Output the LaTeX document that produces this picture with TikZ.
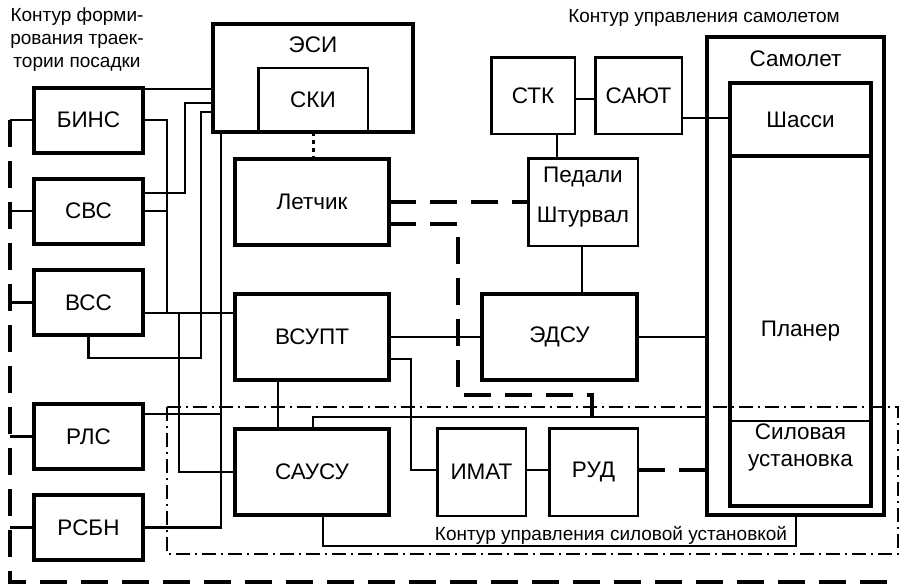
\documentclass[tikz,border=0pt]{standalone}
\usepackage{fontspec}
\setmainfont{Liberation Sans}
\usepackage{tikz}
\usetikzlibrary{
  positioning,
  calc
}
\definecolor{WireBlack}{RGB}{0,0,0}
\tikzset{
  heavybox/.style={draw=WireBlack,line width=4pt,outer sep=0pt,inner sep=0pt,minimum width=109pt,minimum height=65pt,align=center,font=\fontsize{22.5}{27}\selectfont},
  lightbox/.style={draw=WireBlack,line width=2.5pt,outer sep=0pt,inner sep=0pt,minimum width=88.5pt,minimum height=87.5pt,align=center,font=\fontsize{22.5}{27}\selectfont},
  boxtext/.style={inner sep=0pt,align=center,font=\fontsize{22.5}{27}\selectfont},
  notetext/.style={inner sep=0pt,align=center,font=\fontsize{19}{23}\selectfont},
  wire/.style={line width=2.2pt,draw=WireBlack},
  crewlink/.style={line width=4pt,dash pattern=on 27pt off 14pt,draw=WireBlack},
  sightlink/.style={line width=3pt,dash pattern=on 4pt off 4pt,draw=WireBlack},
  loopline/.style={line width=4pt,dash pattern=on 27pt off 14pt,draw=WireBlack},
  powerloop/.style={line width=2pt,dash pattern=on 14pt off 5pt on 2pt off 5pt,draw=WireBlack},
  tickline/.style={line width=2.8pt,draw=WireBlack}
}

\begin{document}
\begin{tikzpicture}[x=1pt,y=-1pt]
\useasboundingbox (0,0) rectangle (901,587);

% contour labels
\node[notetext, anchor=north] (landtxt) at (77,7.5) {Контур форми-\\рования траек-\\тории посадки};
\node[notetext, anchor=base] (planetxt) at (704,22) {Контур управления самолетом};

% left column
\node[heavybox] (bins) at (88.5,120) {БИНС};
\node[heavybox, below=26pt of bins] (svs) {СВС};
\node[heavybox, below=26.5pt of svs] (vss) {ВСС};
\node[heavybox, below=69pt of vss] (rls) {РЛС};
\node[heavybox, below=26pt of rls] (rsbn) {РСБН};

% display and pilot
\node[heavybox, minimum width=200pt, minimum height=108pt] (esi) at (313,78) {};
\node[boxtext] (esitxt) at (313,44.5) {ЭСИ};
\node[lightbox, minimum width=109.5pt, minimum height=64pt, anchor=south] (ski) at (esi.south) {СКИ};
\node[heavybox, minimum width=154pt, minimum height=86pt] (letchik) at (312,202) {Летчик};
\node[heavybox, minimum width=154pt, minimum height=86pt, below=49pt of letchik] (vsupt) {ВСУПТ};
\node[heavybox, minimum width=154pt, minimum height=86pt, below=49pt of vsupt] (sausu) {САУСУ};

% aircraft control
\node[lightbox, minimum width=83.5pt, minimum height=76.5pt] (stk) at (533,95.5) {СТК};
\node[lightbox, minimum width=86.5pt, minimum height=76.5pt] (saut) at (638.5,95.5) {САЮТ};
\node[lightbox, minimum width=109.5pt, minimum height=87.5pt] (pedali) at (583,202) {};
\node[boxtext, font=\fontsize{22.5}{40}\selectfont] (pedalitxt) at (583,197) {Педали\\Штурвал};
\node[heavybox, minimum width=155pt, minimum height=86pt] (edsu) at (559.5,337) {ЭДСУ};
\node[lightbox] (imat) at (481.5,472) {ИМАТ};
\node[lightbox] (rud) at (593.5,472) {РУД};

% aircraft
\node[heavybox, minimum width=177pt, minimum height=478pt] (samolet) at (795.5,276) {};
\node[boxtext] (samolettxt) at (795.5,58.5) {Самолет};
\node[heavybox, minimum width=141pt, minimum height=73pt] (shassi) at (800.5,119.5) {Шасси};
\node[heavybox, minimum width=141pt, minimum height=350pt, below=0pt of shassi] (planer) {Планер};
\node[boxtext] (silu) at (800.5,447) {Силовая\\установка};
\draw[wire] (planer.west |- 0,421) -- (planer.east |- 0,421);

% sensor wiring
\draw[wire] (bins.east |- 0,89) -- (esi.west |- 0,89);
\draw[wire] (bins.east) -- (167,120) -- (167,313);
\draw[wire] (svs.east |- 0,193) -- (185,193) -- (185,103) -- (esi.west |- 0,103);
\draw[wire] (svs.east) -- (167,211);
\draw[wire] (vss.east |- 0,313) -- (vsupt.west |- 0,313);
\draw[wire] (179,313) -- (179,472) -- (sausu.west);
\draw[wire] (vss.south) -- (88.5,358) -- (201,358) -- (201,112) -- (esi.west |- 0,112);
\draw[wire] (esi.south -| 221,0) -- (221,527.5) -- (rsbn.east);
\draw[wire] (rls.east |- 0,414) -- (221,414);

% control wiring
\draw[wire] (vsupt.south -| 278,0) -- (sausu.north -| 278,0);
\draw[wire] (vsupt.east) -- (edsu.west);
\draw[wire] (vsupt.east |- 0,359) -- (411,359) -- (411,470) -- (imat.west |- 0,470);
\draw[wire] (imat.east |- 0,470) -- (rud.west |- 0,470);
\draw[crewlink] (rud.east |- 0,470) -- (samolet.west |- 0,470);
\draw[wire] (sausu.north -| 313,0) -- (313,417) -- (samolet.west |- 0,417);
\draw[wire] (sausu.south -| 323,0) -- (323,546) -- (796,546) -- (samolet.south -| 796,0);
\draw[wire] (edsu.east) -- (samolet.west |- edsu.east);
\draw[wire] (pedali.south -| 582,0) -- (edsu.north -| 582,0);
\draw[wire] (stk.south -| 557,0) -- (pedali.north -| 557,0);
\draw[wire] (stk.east |- 0,99) -- (saut.west |- 0,99);
\draw[wire] (saut.east |- 0,118) -- (shassi.west |- 0,118);

% pilot links
\draw[sightlink] (ski.south) -- (letchik.north -| ski.south);
\draw[crewlink] (letchik.east |- 0,202) -- (pedali.west |- 0,202);
\draw[crewlink] (letchik.east |- 0,224) -- (458,224) -- (458,395) -- (592,395) -- (592,417);

% landing loop
\coordinate (lt) at (10,120);
\coordinate (lb) at (10,582);
\coordinate (rb) at (897,582);
\draw[loopline] (lt) -- (lb) -- (rb);
\draw[tickline] (bins.west) -- (bins.west -| lt);
\draw[tickline] (svs.west) -- (svs.west -| lt);
\draw[tickline] (vss.west) -- (vss.west -| lt);
\draw[tickline] (rls.west) -- (rls.west -| lt);
\draw[tickline] (rsbn.west) -- (rsbn.west -| lt);

% power plant loop
\draw[powerloop] (167,407) rectangle (898,554);
\node[notetext, anchor=base] (powertxt) at (611,540) {Контур управления силовой установкой};
\end{tikzpicture}
\end{document}
